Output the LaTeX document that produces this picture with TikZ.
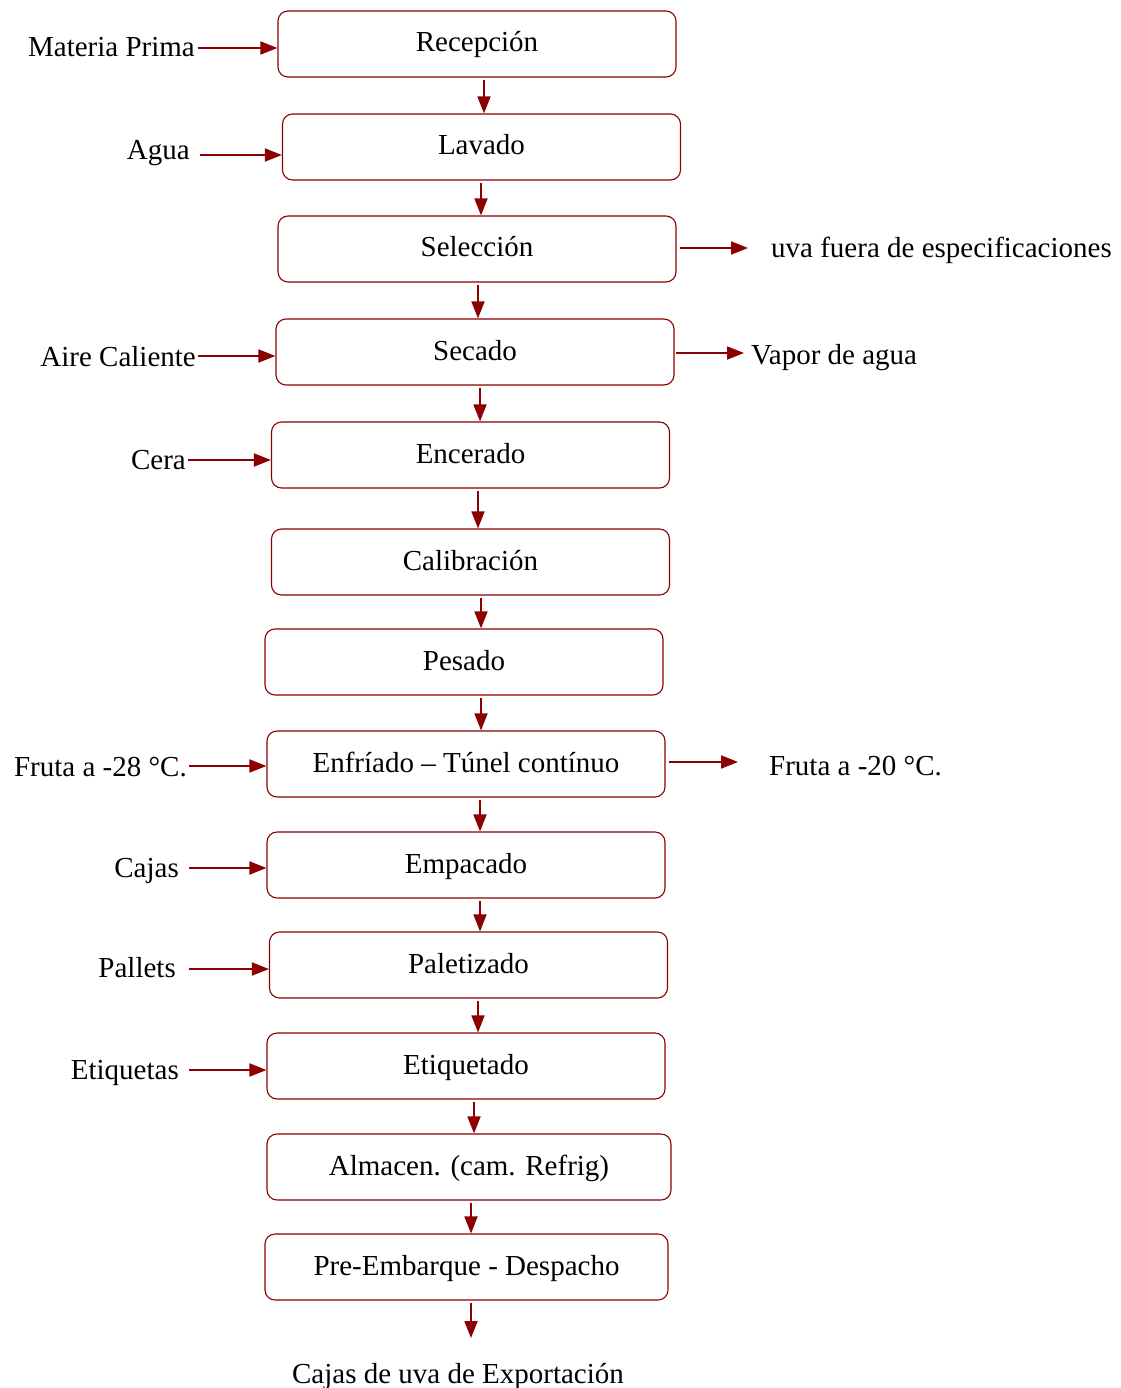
\documentclass[tikz,border=0pt]{standalone}
\usepackage{fontspec}
\setmainfont{Liberation Serif}
\usetikzlibrary{arrows.meta}
\definecolor{flowred}{RGB}{139,0,0}
\begin{document}
\begin{tikzpicture}[x=1pt,y=-1pt,
  font=\fontsize{29}{34}\selectfont,
  stagebox/.style={draw=flowred, line width=1.1pt, rounded corners=10pt,
    minimum width=398pt, minimum height=66pt, inner sep=0pt,
    text height=23pt, text depth=7pt},
  flow/.style={draw=flowred, line width=1.8pt,
    -{Triangle[length=17pt,width=13pt]}},
  lbl/.style={inner sep=0pt}]
\useasboundingbox (0,0) rectangle (1120,1388);

% process stages
\node[stagebox] (n1)  at (477,44)    {Recepción};
\node[stagebox] (n2)  at (481.5,147) {Lavado};
\node[stagebox] (n3)  at (477,249)   {Selección};
\node[stagebox] (n4)  at (475,352)   {Secado};
\node[stagebox] (n5)  at (470.5,455) {Encerado};
\node[stagebox] (n6)  at (470.5,562) {Calibración};
\node[stagebox] (n7)  at (464,662)   {Pesado};
\node[stagebox] (n8)  at (466,764)   {Enfríado – Túnel contínuo};
\node[stagebox] (n9)  at (466,865)   {Empacado};
\node[stagebox] (n10) at (468.5,965) {Paletizado};
\node[stagebox] (n11) at (466,1066)  {Etiquetado};
\node[stagebox, minimum width=404pt] (n12) at (469,1167) {Almacen. (cam. Refrig)};
\node[stagebox, minimum width=403pt] (n13) at (466.5,1267) {Pre-Embarque - Despacho};

% main flow
\draw[flow, shorten <=2pt] (n1.south -| 484,0)  -- (n2.north -| 484,0);
\draw[flow, shorten <=2pt] (n2.south -| 481,0)  -- (n3.north -| 481,0);
\draw[flow, shorten <=2pt] (n3.south -| 478,0)  -- (n4.north -| 478,0);
\draw[flow, shorten <=2pt] (n4.south -| 480,0)  -- (n5.north -| 480,0);
\draw[flow, shorten <=2pt] (n5.south -| 478,0)  -- (n6.north -| 478,0);
\draw[flow, shorten <=2pt] (n6.south -| 481,0)  -- (n7.north -| 481,0);
\draw[flow, shorten <=2pt] (n7.south -| 481,0)  -- (n8.north -| 481,0);
\draw[flow, shorten <=2pt] (n8.south -| 480,0)  -- (n9.north -| 480,0);
\draw[flow, shorten <=2pt] (n9.south -| 480,0)  -- (n10.north -| 480,0);
\draw[flow, shorten <=2pt] (n10.south -| 478,0) -- (n11.north -| 478,0);
\draw[flow, shorten <=2pt] (n11.south -| 474,0) -- (n12.north -| 474,0);
\draw[flow, shorten <=2pt] (n12.south -| 471,0) -- (n13.north -| 471,0);
\coordinate (endflow) at (471,1338);
\draw[flow, shorten <=2pt] (n13.south -| endflow) -- (endflow);
\node[lbl, anchor=base] (out) at (458,1383) {Cajas de uva de Exportación};

% inputs
\node[lbl, anchor=base east] (i1) at (195,57)   {Materia Prima};
\node[lbl, anchor=base east] (i2) at (190,160)  {Agua};
\node[lbl, anchor=base east] (i3) at (196,366)  {Aire Caliente};
\node[lbl, anchor=base east] (i4) at (186,469)  {Cera};
\node[lbl, anchor=base east] (i5) at (187,776)  {Fruta a -28 °C.};
\node[lbl, anchor=base east] (i6) at (179,877)  {Cajas};
\node[lbl, anchor=base east] (i7) at (176,977)  {Pallets};
\node[lbl, anchor=base east] (i8) at (179,1079) {Etiquetas};

\coordinate (a1) at (198,48);
\coordinate (a2) at (200,155);
\coordinate (a3) at (198,356);
\coordinate (a4) at (188,460);
\coordinate (a5) at (189,766);
\coordinate (a6) at (189,868);
\coordinate (a7) at (189,969);
\coordinate (a8) at (189,1070);
\draw[flow] (a1) -- (a1 -| n1.west);
\draw[flow] (a2) -- (a2 -| n2.west);
\draw[flow] (a3) -- (a3 -| n4.west);
\draw[flow] (a4) -- (a4 -| n5.west);
\draw[flow] (a5) -- (a5 -| n8.west);
\draw[flow] (a6) -- (a6 -| n9.west);
\draw[flow] (a7) -- (a7 -| n10.west);
\draw[flow] (a8) -- (a8 -| n11.west);

% outputs
\coordinate (b1) at (748,248);
\coordinate (b2) at (744,353);
\coordinate (b3) at (738,762);
\draw[flow] ([xshift=3pt]n3.east |- b1) -- (b1);
\draw[flow] ([xshift=1pt]n4.east |- b2) -- (b2);
\draw[flow] ([xshift=3pt]n8.east |- b3) -- (b3);
\node[lbl, anchor=base west] (o1) at (771,258) {uva fuera de especificaciones};
\node[lbl, anchor=base west] (o2) at (751,364) {Vapor de agua};
\node[lbl, anchor=base west] (o3) at (769,775) {Fruta a -20 °C.};
\end{tikzpicture}
\end{document}
